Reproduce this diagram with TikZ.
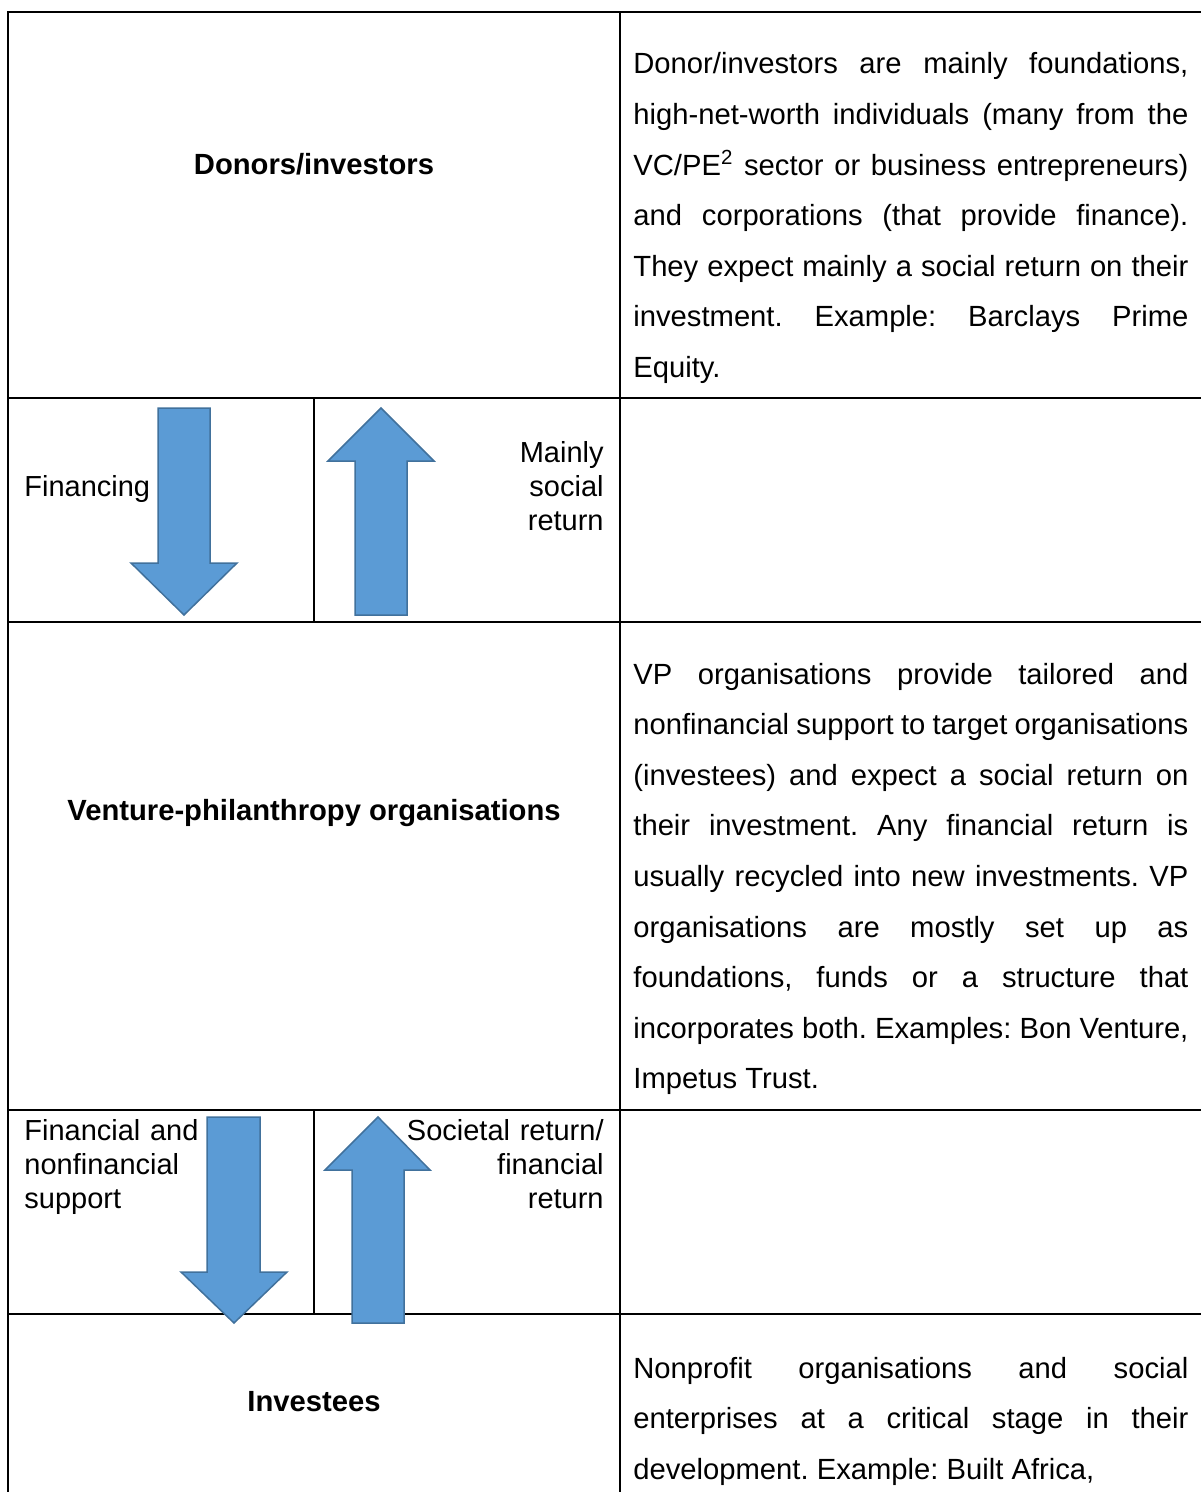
\documentclass[tikz,border=0pt]{standalone}
\usepackage{fontspec}
\setmainfont{Liberation Sans}
\definecolor{arrowfill}{HTML}{5B9BD5}
\definecolor{arrowedge}{HTML}{41719C}
\begin{document}
\frenchspacing
\hyphenpenalty=10000
\begin{tikzpicture}[x=0.5pt,y=-0.5pt,
  grid/.style={line width=1.1pt, black},
  blockarrow/.style={fill=arrowfill, draw=arrowedge, line width=0.75pt, line join=miter},
  desc/.style={anchor=base west, inner sep=0pt, text width=277.5pt, align=justify,
    font=\fontsize{14.6}{25.3}\selectfont},
  title/.style={anchor=base, inner sep=0pt, font=\fontsize{14.6}{17}\selectfont\bfseries},
  lblL/.style={anchor=base west, inner sep=0pt, text width=150pt, align=left, font=\fontsize{14.5}{17}\selectfont},
  lblR/.style={anchor=base east, inner sep=0pt, text width=150pt, align=right, font=\fontsize{14.5}{17}\selectfont}]
\useasboundingbox (0,0) rectangle (1201,1492);
% table grid
\draw[grid] (8,1492) -- (8,12) -- (1201,12);
\draw[grid] (620,12) -- (620,1492);
\draw[grid] (8,398) -- (1201,398);
\draw[grid] (8,622) -- (1201,622);
\draw[grid] (8,1110) -- (1201,1110);
\draw[grid] (8,1314) -- (1201,1314);
\draw[grid] (314,398) -- (314,622);
\draw[grid] (314,1110) -- (314,1314);
% titles
\node[title] (donors) at (314,175) {Donors/investors};
\node[title] (vp) at (314,820) {Venture-philanthropy organisations};
\node[title] (investees) at (314,1411) {Investees};
% descriptions
\node[desc] (ddesc) at (633,74) {Donor/investors are mainly foundations,\linebreak
high-net-worth individuals (many from the\linebreak
VC/PE\textsuperscript{2} sector or business entrepreneurs)\linebreak
and corporations (that provide finance).\linebreak
They expect mainly a social return on their\linebreak
investment. Example: Barclays Prime\linebreak
Equity.};
\node[desc] (vpdesc) at (633,684) {VP organisations provide tailored and\linebreak
nonfinancial support to target organisations\linebreak
(investees) and expect a social return on\linebreak
their investment. Any financial return is\linebreak
usually recycled into new investments. VP\linebreak
organisations are mostly set up as\linebreak
foundations, funds or a structure that\linebreak
incorporates both. Examples: Bon Venture,\linebreak
Impetus Trust.};
\node[desc] (idesc) at (633,1378) {Nonprofit organisations and social\linebreak
enterprises at a critical stage in their\linebreak
development. Example: Built Africa,};
% arrows row 1
\draw[blockarrow] (158,408) -- (210,408) -- (210,563) -- (237,563) -- (184,615) -- (131,563) -- (158,563) -- cycle;
\draw[blockarrow] (381,408) -- (434,461) -- (407,461) -- (407,615) -- (355,615) -- (355,461) -- (328,461) -- cycle;
% arrows row 2
\draw[blockarrow] (207,1117) -- (260,1117) -- (260,1272) -- (287,1272) -- (234,1323) -- (181,1272) -- (207,1272) -- cycle;
\draw[blockarrow] (378,1117) -- (430,1170) -- (404,1170) -- (404,1323) -- (352,1323) -- (352,1170) -- (325,1170) -- cycle;
% arrow labels
\node[lblL] (fin) at (24,496) {Financing};
\node[lblR] (socret) at (604,462) {Mainly\\ social\\ return};
\node[lblL] (finsup) at (24,1140) {Financial and\\ nonfinancial\\ support};
\node[lblR] (socfin) at (604,1140) {Societal return/\\ financial\\ return};
\end{tikzpicture}
\end{document}
